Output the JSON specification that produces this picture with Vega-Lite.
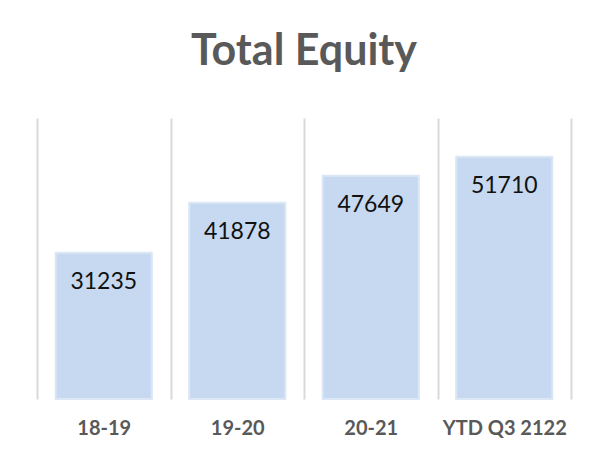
{
  "$schema": "https://vega.github.io/schema/vega-lite/v6.json",
  "width": 534,
  "height": 281,
  "autosize": {"type": "none"},
  "padding": {"left": 37, "top": 118, "right": 22, "bottom": 60},
  "background": "white",
  "config": {"view": {"stroke": null}, "font": "Lato"},
  "title": {
    "text": "Total Equity",
    "font": "Lato",
    "fontSize": 43,
    "fontWeight": "bold",
    "color": "#595959",
    "anchor": "middle",
    "baseline": "alphabetic",
    "offset": 10
  },
  "data": {
    "values": [
      {"period": "18-19", "equity": 31235},
      {"period": "19-20", "equity": 41878},
      {"period": "20-21", "equity": 47649},
      {"period": "YTD Q3 2122", "equity": 51710}
    ]
  },
  "encoding": {
    "x": {
      "field": "period",
      "type": "nominal",
      "sort": null,
      "scale": {"paddingInner": 0, "paddingOuter": 0},
      "axis": {
        "title": null,
        "domain": false,
        "ticks": false,
        "tickSize": 0,
        "tickBand": "extent",
        "grid": true,
        "gridColor": "#d9d9d9",
        "gridWidth": 2,
        "labelAngle": 0,
        "labelFont": "Lato",
        "labelFontSize": 20,
        "labelFontWeight": "bold",
        "labelColor": "#595959",
        "labelBaseline": "alphabetic",
        "labelPadding": 35
      }
    },
    "y": {
      "field": "equity",
      "type": "quantitative",
      "scale": {"domain": [0, 60000]},
      "axis": null
    }
  },
  "layer": [
    {
      "mark": {"type": "bar", "width": {"band": 0.72}, "color": "#c6d9f0", "stroke": "#dce7f5", "strokeWidth": 2}
    },
    {
      "mark": {"type": "text", "baseline": "alphabetic", "dy": 36, "font": "Lato", "fontSize": 23, "color": "#111111"},
      "encoding": {"text": {"field": "equity", "type": "quantitative", "format": "d"}}
    }
  ]
}
